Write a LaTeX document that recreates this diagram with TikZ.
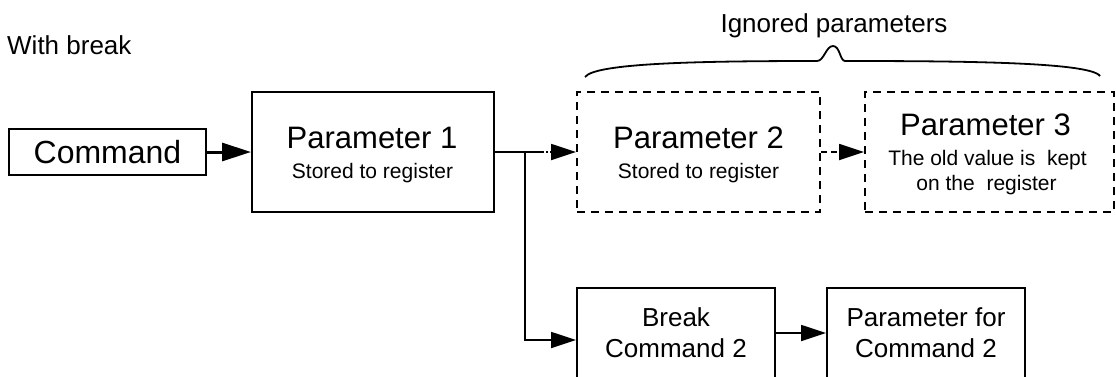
\documentclass[tikz,border=0pt]{standalone}
\usepackage{fontspec}
\setmainfont{Liberation Sans}
\usetikzlibrary{arrows.meta}
\begin{document}
\begin{tikzpicture}[x=1pt,y=-1pt,
  box/.style={draw, line width=2pt, inner sep=0pt, align=center},
  dbox/.style={box, dash pattern=on 8pt off 6pt},
  conn/.style={line width=1.8pt},
  tip/.style={-{Triangle[length=25pt,width=16pt]}},
  txt/.style={inner sep=0pt, anchor=base},
  bigt/.style={txt, font=\fontsize{31}{31}\selectfont},
  smallt/.style={txt, font=\fontsize{21}{25}\selectfont},
]
\useasboundingbox (0,0) rectangle (1116,376);
\clip (0,0) rectangle (1116,376);

\node[txt, anchor=base west, font=\fontsize{26}{30}\selectfont] (wb) at (7,54) {With break};
\node[txt, font=\fontsize{26}{30}\selectfont] (ig) at (834,32) {Ignored parameters};

\node[box, minimum width=197pt, minimum height=46pt, font=\fontsize{32}{38}\selectfont] (cmd) at (107.5,152) {Command};

\node[box, minimum width=242pt, minimum height=120pt] (p1) at (373,152) {};
\node[bigt] (p1a) at (372,148) {Parameter 1};
\node[smallt] (p1b) at (372.5,178) {Stored to register};

\node[dbox, minimum width=243pt, minimum height=120pt] (p2) at (698.5,152) {};
\node[bigt] (p2a) at (698.5,148) {Parameter 2};
\node[smallt] (p2b) at (698.5,178) {Stored to register};

\node[dbox, minimum width=249pt, minimum height=120pt] (p3) at (989.5,152) {};
\node[bigt] (p3a) at (985.5,135) {Parameter 3};
\node[smallt] (p3b) at (987.5,165) {The old value is\ \ kept};
\node[smallt] (p3c) at (986.5,190) {on the\ \ register};

\node[box, minimum width=198pt, minimum height=90pt, font=\fontsize{26}{31}\selectfont] (brk) at (676,333) {Break\\Command 2};
\node[box, minimum width=198pt, minimum height=90pt, font=\fontsize{26}{31}\selectfont] (pfc) at (926,333) {Parameter for\\Command 2};

\coordinate (br) at (525,152);
\coordinate (dd) at (542,152);

\draw[line width=3pt, -{Triangle[length=29pt,width=18pt]}] (cmd) -- (p1);
\draw[conn] (p1.east) -- (dd);
\draw[conn, dash pattern=on 2pt off 2pt, tip] (dd) -- (p2.west);
\draw[conn, tip] (br) |- ([yshift=-7pt]brk.west);
\draw[conn, dash pattern=on 6pt off 4pt, tip] (p2) -- (p3);
\draw[conn, tip] (brk) -- (pfc);

\draw[line width=1.8pt] (585,77) .. controls (595,63) and (700,61) .. (817,61)
  .. controls (824,61) and (826,46) .. (833,46)
  .. controls (840,46) and (840,61) .. (845,61)
  .. controls (960,61) and (1090,62) .. (1100,76);
\end{tikzpicture}
\end{document}
